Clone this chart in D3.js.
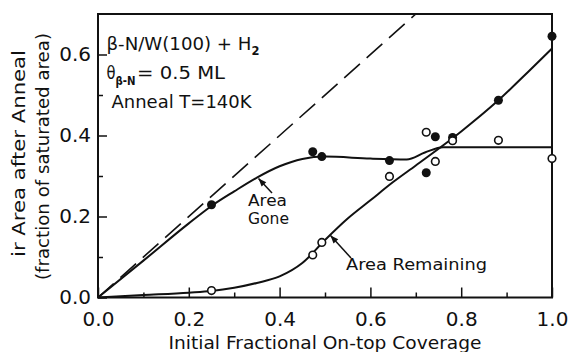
<!DOCTYPE html>
<html><head><meta charset="utf-8">
<script src="https://cdn.jsdelivr.net/npm/d3@7"></script>
<style>
body{margin:0;background:#fff}
svg{display:block}
text{font-family:"DejaVu Sans",sans-serif;fill:#111}
</style>
</head><body>
<svg id="c" width="568" height="352"></svg>
<script>
// ---- data ----
const xTickValues = [0, 0.2, 0.4, 0.6, 0.8, 1.0];
const xTickLabels = ["0.0", "0.2", "0.4", "0.6", "0.8", "1.0"];
const yTickValues = [0, 0.2, 0.4, 0.6];
const yTickLabels = ["0.0", "0.2", "0.4", "0.6"];
const xMinorTicks = [0.1, 0.3, 0.5, 0.7, 0.9];
const yMinorTicks = [0.1, 0.3, 0.5];

const coverage      = [0.25, 0.473, 0.493, 0.642, 0.723, 0.743, 0.781, 0.882, 1.0];
const areaGone      = [0.229, 0.36, 0.348, 0.338, 0.308, 0.397, 0.395, 0.487, 0.645];
const areaRemaining = [0.017, 0.105, 0.136, 0.299, 0.408, 0.336, 0.387, 0.388, 0.343];

const goneCurveX = [0, 0.1, 0.2, 0.25, 0.3, 0.35, 0.4, 0.45, 0.5, 0.6, 0.68, 0.72, 0.76, 0.85, 1.0];
const goneCurveY = [0, 0.091, 0.183, 0.226, 0.262, 0.296, 0.324, 0.342, 0.348, 0.343, 0.341, 0.358, 0.371, 0.371, 0.371];
const remainCurveX = [0, 0.1, 0.2, 0.25, 0.3, 0.35, 0.4, 0.45, 0.5, 0.55, 0.6, 0.65, 0.7, 0.8, 0.88, 0.95, 1.0];
const remainCurveY = [0, 0.006, 0.012, 0.016, 0.024, 0.036, 0.052, 0.085, 0.142, 0.195, 0.24, 0.285, 0.326, 0.41, 0.485, 0.56, 0.615];
const diagonalX = [0, 0.7];
const diagonalY = [0, 0.7];

const xTitle = "Initial Fractional On-top Coverage";
const yTitle1 = "ir Area after Anneal";
const yTitle2 = "(fraction of saturated area)";

// ---- drawing ----
const svg = d3.select("#c");
const L = 98, R = 552, T = 14, B = 297.5;
const x = d3.scaleLinear().domain([0, 1]).range([L, R]);
const y = d3.scaleLinear().domain([0, 0.7]).range([B, T]);

// minor ticks
svg.append("g").attr("transform", `translate(0,${B})`)
  .call(d3.axisBottom(x).tickValues(xMinorTicks).tickSize(-5).tickFormat(""))
  .call(g => g.select(".domain").remove())
  .selectAll("line").attr("stroke", "#111").attr("stroke-width", 1.5);
svg.append("g").attr("transform", `translate(${L},0)`)
  .call(d3.axisLeft(y).tickValues(yMinorTicks).tickSize(-5).tickFormat(""))
  .call(g => g.select(".domain").remove())
  .selectAll("line").attr("stroke", "#111").attr("stroke-width", 1.5);

// major axes
const xa = svg.append("g").attr("transform", `translate(0,${B})`)
  .call(d3.axisBottom(x).tickValues(xTickValues).tickSize(-10).tickPadding(14)
    .tickFormat((d, i) => xTickLabels[i]));
xa.select(".domain").remove();
xa.selectAll("line").attr("stroke", "#111").attr("stroke-width", 1.5);
xa.selectAll("text").attr("font-size", 20).attr("font-family", "DejaVu Sans").attr("fill", "#111");

const ya = svg.append("g").attr("transform", `translate(${L},0)`)
  .call(d3.axisLeft(y).tickValues(yTickValues).tickSize(-9).tickPadding(7)
    .tickFormat((d, i) => yTickLabels[i]));
ya.select(".domain").remove();
ya.selectAll("line").attr("stroke", "#111").attr("stroke-width", 1.5);
ya.selectAll("text").attr("font-size", 20).attr("font-family", "DejaVu Sans").attr("fill", "#111");

// frame
svg.append("rect").attr("x", L).attr("y", T).attr("width", R - L).attr("height", B - T)
  .attr("fill", "none").attr("stroke", "#111").attr("stroke-width", 2);

// dashed diagonal
const line = d3.line().x(d => x(d[0])).y(d => y(d[1]));
svg.append("path").datum(d3.zip(diagonalX, diagonalY)).attr("d", line)
  .attr("fill", "none").attr("stroke", "#111").attr("stroke-width", 1.6).attr("stroke-dasharray", "21,9");

// curves
const curve = d3.line().x(d => x(d[0])).y(d => y(d[1])).curve(d3.curveMonotoneX);
svg.append("path").datum(d3.zip(goneCurveX, goneCurveY)).attr("d", curve)
  .attr("fill", "none").attr("stroke", "#111").attr("stroke-width", 2);
svg.append("path").datum(d3.zip(remainCurveX, remainCurveY)).attr("d", curve)
  .attr("fill", "none").attr("stroke", "#111").attr("stroke-width", 2);

// points
svg.append("g").selectAll("circle").data(d3.zip(coverage, areaGone)).join("circle")
  .attr("cx", d => x(d[0])).attr("cy", d => y(d[1])).attr("r", 4.5).attr("fill", "#111");
svg.append("g").selectAll("circle").data(d3.zip(coverage, areaRemaining)).join("circle")
  .attr("cx", d => x(d[0])).attr("cy", d => y(d[1])).attr("r", 3.8)
  .attr("fill", "#fff").attr("stroke", "#111").attr("stroke-width", 1.6);

// arrows
function arrow(x1, y1, x2, y2) {
  svg.append("line").attr("x1", x1).attr("y1", y1).attr("x2", x2).attr("y2", y2)
    .attr("stroke", "#111").attr("stroke-width", 1.5);
  const a = Math.atan2(y2 - y1, x2 - x1), len = 8, w = 3.2;
  const bx = x2 - len * Math.cos(a), by = y2 - len * Math.sin(a);
  const px = -Math.sin(a) * w, py = Math.cos(a) * w;
  svg.append("path").attr("d", `M${x2},${y2}L${bx + px},${by + py}L${bx - px},${by - py}Z`).attr("fill", "#111");
}
arrow(272, 193, 258.5, 178.5);
arrow(351, 258, 330.5, 235.5);

// text helpers
function txt(s, tx, ty, size, len) {
  const t = svg.append("text").attr("x", tx).attr("y", ty).attr("font-size", size).text(s);
  if (len) t.attr("textLength", len).attr("lengthAdjust", "spacingAndGlyphs");
  return t;
}
txt("Area", 248, 206, 15, 39);
txt("Gone", 248, 224, 15, 41);
txt("Area Remaining", 346, 270, 16, 141);

// annotation
txt("\u03B2-N/W(100) + H", 106.5, 49.5, 17, 145);
txt("2", 251.5, 55, 12, 8).attr("font-weight", "bold");
txt("\u03B8", 106.5, 78.5, 17, 9);
txt("\u03B2-N", 115.5, 84.5, 12, 20).attr("font-weight", "bold");
txt("= 0.5 ML", 137, 78.5, 17, 88);
txt("Anneal T=140K", 111.5, 108, 17, 140);

// axis titles
svg.append("text").attr("x", 325).attr("y", 349).attr("text-anchor", "middle")
  .attr("font-size", 17).attr("textLength", 313).attr("lengthAdjust", "spacingAndGlyphs").text(xTitle);
svg.append("text").attr("transform", "translate(25,153.5) rotate(-90)").attr("text-anchor", "middle")
  .attr("font-size", 17).attr("textLength", 207).attr("lengthAdjust", "spacingAndGlyphs").text(yTitle1);
svg.append("text").attr("transform", "translate(49,156.5) rotate(-90)").attr("text-anchor", "middle")
  .attr("font-size", 17).attr("textLength", 247).attr("lengthAdjust", "spacingAndGlyphs").text(yTitle2);
</script>
</body></html>
